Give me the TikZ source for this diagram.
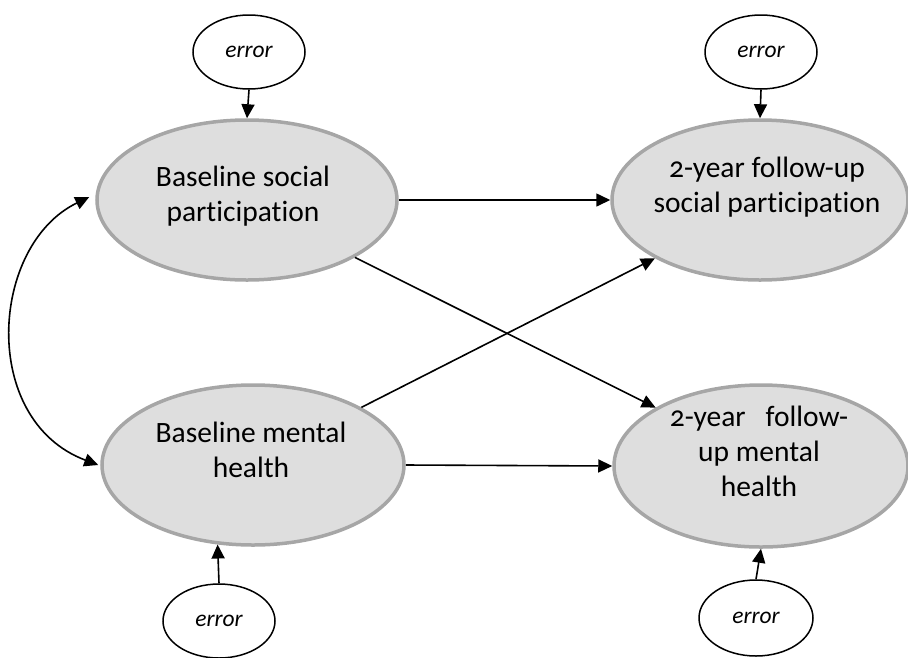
\documentclass[tikz,border=0pt]{standalone}
\usepackage{fontspec}
\setmainfont{Carlito}[Numbers=OldStyle, Ligatures=NoCommon]
\usetikzlibrary{shapes.geometric,arrows.meta}

\begin{document}
\begin{tikzpicture}[x=1pt,y=-1pt,
  latent/.style={ellipse, draw=black!35, line width=3.5pt, fill=black!13, inner sep=0pt},
  errnode/.style={ellipse, draw=black, line width=1.5pt, fill=white, inner sep=0pt,
    minimum width=112pt, minimum height=74pt,
    font=\fontsize{23.5}{28}\selectfont\itshape},
  lbl/.style={align=center, inner sep=0pt, font=\fontsize{29.5}{35}\selectfont},
  arr/.style={-{Triangle[length=14pt,width=13pt]}, line width=1.6pt},
  dblarr/.style={{Triangle[length=14pt,width=13pt]}-{Triangle[length=14pt,width=13pt]}, line width=1.6pt}
]
\useasboundingbox (0,0) rectangle (908,657);

% latent variables
\node[latent, minimum width=300pt, minimum height=160pt] (tl) at (247,200) {};
\node[latent, minimum width=296pt, minimum height=160pt] (tr) at (760,200) {};
\node[latent, minimum width=302pt, minimum height=160pt] (bl) at (253,465) {};
\node[latent, minimum width=294pt, minimum height=162pt] (br) at (761,466) {};

% labels of the latent variables
\node[lbl] (tltext) at (243,196) {Baseline social\\participation};
\node[lbl] (trtext) at (767,187) {2-year follow-up\\social participation};
\node[lbl] (bltext) at (251,450) {Baseline mental\\health};
\node[lbl] (brtext) at (759,451) {2-year\ \ \ follow-\\up mental\\health};

% error terms
\node[errnode] (e1) at (249,52) {error};
\node[errnode] (e2) at (761,52) {error};
\node[errnode] (e3) at (219,621) {error};
\node[errnode, minimum width=114pt, minimum height=76pt] (e4) at (756,618) {error};

% error paths
\draw[arr] (e1.south) -- (tl.north);
\draw[arr] (e2.south) -- (tr.north);
\draw[arr] (e3.north) -- (bl.-114);
\draw[arr] (e4.north) -- (br.south);

% structural paths
\draw[arr] (tl.east) -- (tr.west);
\draw[arr] (bl.east) -- (br.west);
\draw[arr] (tl.-28) -- (br.151);
\draw[arr] (bl.28) -- (tr.209);

% covariance between baseline measures
\draw[dblarr] ([xshift=-6pt,yshift=3pt]tl.west) .. controls (-10,245) and (-21,420) .. ([xshift=-2pt]bl.west);
\end{tikzpicture}
\end{document}
